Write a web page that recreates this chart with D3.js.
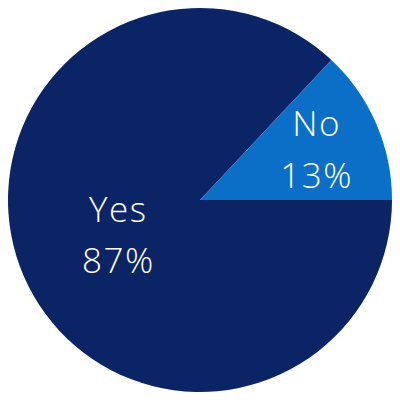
<!DOCTYPE html>
<html>
<head>
<meta charset="utf-8">
<script src="https://cdn.jsdelivr.net/npm/d3@7"></script>
<style>
  html, body { margin: 0; padding: 0; background: #fff; }
  svg { display: block; }
</style>
</head>
<body>
<div id="chart"></div>
<script>
const categories = ["Yes", "No"];
const shares = [87, 13];
const pctLabels = ["87%", "13%"];

const width = 400, height = 400;
const radius = 192;
const colors = { Yes: "#0a2466", No: "#0b6fc8" };
// label distance from centre, per slice
const labelRadius = { Yes: 89, No: 127 };

const data = categories.map((c, i) => ({ name: c, value: shares[i], pct: pctLabels[i] }));

const svg = d3.select("#chart")
  .append("svg")
  .attr("width", width)
  .attr("height", height);

const g = svg.append("g")
  .attr("transform", `translate(${width / 2},${height / 2})`);

// No slice sits between ~43deg and 90deg (clock angle), Yes wraps the rest
const pie = d3.pie()
  .sort(null)
  .value(d => d.value)
  .startAngle(Math.PI / 2)
  .endAngle(Math.PI / 2 + 2 * Math.PI);

const arc = d3.arc().innerRadius(0).outerRadius(radius);

const arcs = pie(data);

g.selectAll("path")
  .data(arcs)
  .enter()
  .append("path")
  .attr("d", arc)
  .attr("fill", d => colors[d.data.name]);

const labels = g.selectAll("text")
  .data(arcs)
  .enter()
  .append("text")
  .attr("transform", d => {
    const a = (d.startAngle + d.endAngle) / 2;
    const r = labelRadius[d.data.name];
    return `translate(${r * Math.sin(a)},${-r * Math.cos(a)})`;
  })
  .attr("text-anchor", "middle")
  .attr("fill", "#fff")
  .style("font-family", "'Open Sans', sans-serif")
  .style("font-weight", 300)
  .style("font-size", "35px")
  .style("letter-spacing", "1.5px");

labels.append("tspan")
  .attr("x", 0)
  .attr("y", -13.5)
  .text(d => d.data.name);

labels.append("tspan")
  .attr("x", 0)
  .attr("y", 38)
  .text(d => d.data.pct);
</script>
</body>
</html>
